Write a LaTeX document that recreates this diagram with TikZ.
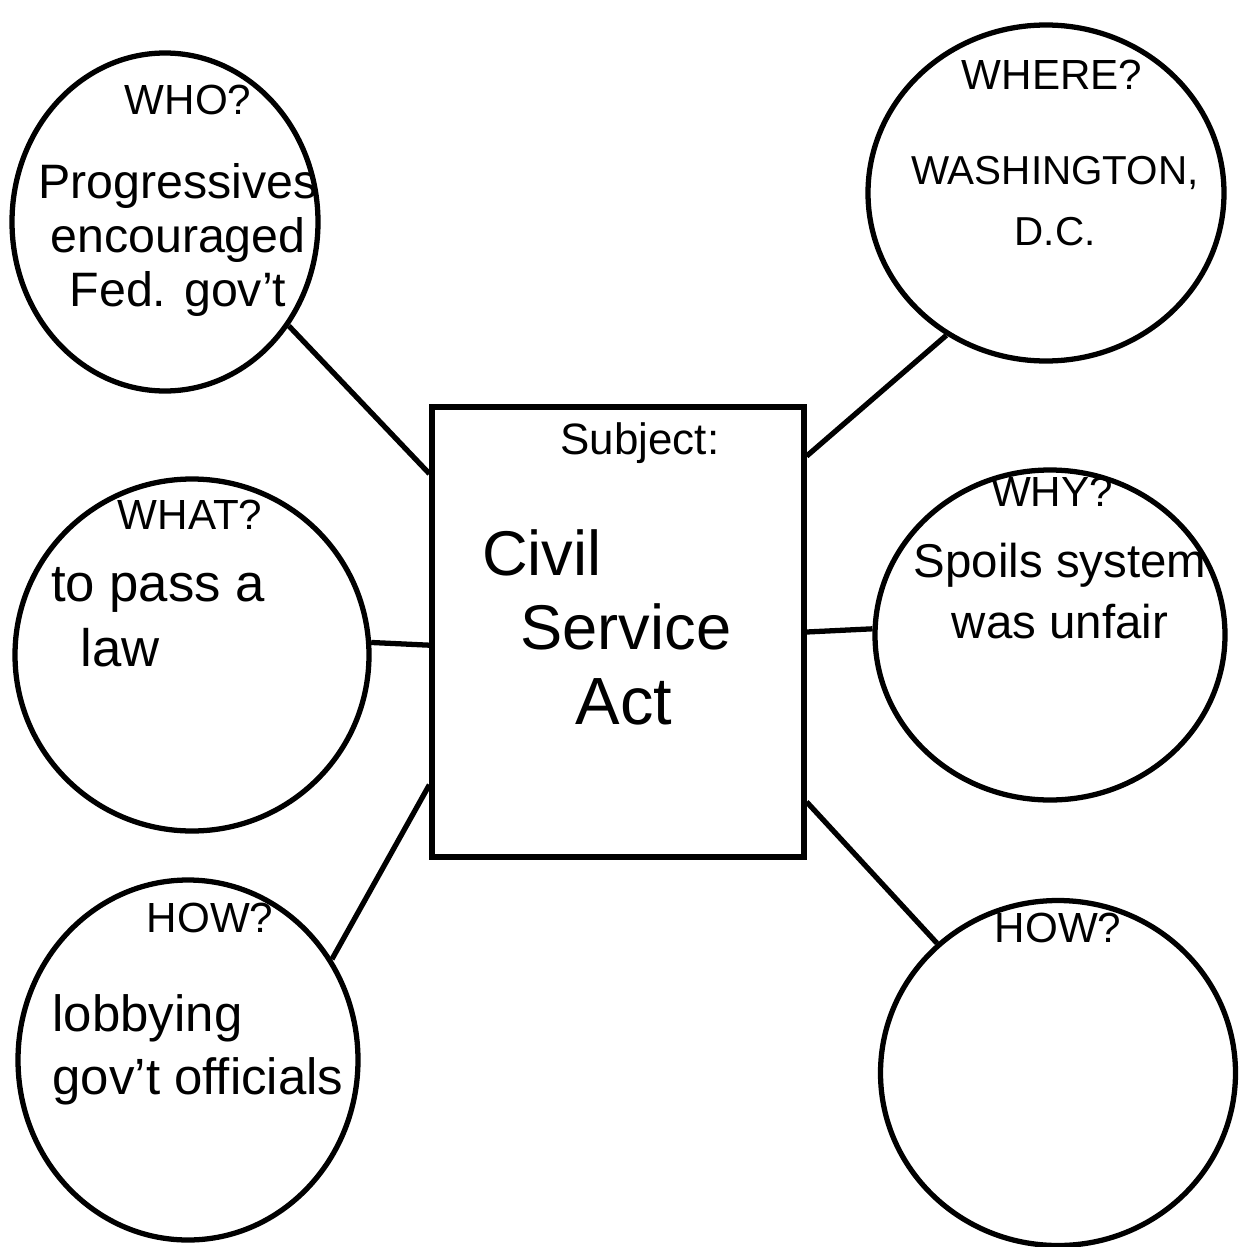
\documentclass[tikz,border=0pt]{standalone}
\usepackage{fontspec}
\setmainfont{Liberation Sans}
\usetikzlibrary{shapes.geometric}
\tikzset{
  burbuja/.style={draw, ellipse, line width=3pt, inner sep=0pt},
  caja/.style={draw, rectangle, line width=3pt, inner sep=0pt},
  enlace/.style={line width=3pt},
  pregunta/.style={font=\fontsize{24}{26}\selectfont},
  texto/.style={align=center},
}
\begin{document}
\begin{tikzpicture}[x=0.02cm, y=-0.02cm]
    % Marco de la imagen
    \useasboundingbox (0,0) rectangle (1245,1247);

    % Caja central
    \node[caja, minimum width=372*0.02cm, minimum height=450*0.02cm] (box) at (618,632) {};
    \node[font=\fontsize{25}{28}\selectfont] (subj) at (640,443) {Subject:};
    \node[font=\fontsize{36}{40}\selectfont] (civil) at (542,553) {Civil};
    \node[font=\fontsize{36}{40}\selectfont] (service) at (626,627) {Service};
    \node[font=\fontsize{38}{40}\selectfont] (act) at (624,702) {Act};

    % Burbujas
    \node[burbuja, minimum width=306*0.02cm, minimum height=338*0.02cm] (who) at (165,222) {};
    \node[burbuja, minimum width=356*0.02cm, minimum height=336*0.02cm] (where) at (1046,193) {};
    \node[burbuja, minimum width=354*0.02cm, minimum height=352*0.02cm] (what) at (192,655) {};
    \node[burbuja, minimum width=350*0.02cm, minimum height=330*0.02cm] (why) at (1050,635) {};
    \node[burbuja, minimum width=340*0.02cm, minimum height=360*0.02cm] (howl) at (188,1060) {};
    \node[burbuja, minimum width=355*0.02cm, minimum height=345*0.02cm] (howr) at (1058,1073) {};

    % Textos de las burbujas
    \node[pregunta] (qwho) at (188,100) {WHO?};
    \node[texto, font=\fontsize{27.5}{31}\selectfont] (twho) at (178,240) {Progressives\\encouraged\\Fed. gov't};
    \node[pregunta] (qwhere) at (1052,75) {WHERE?};
    \node[texto, font=\fontsize{23}{35}\selectfont] (twhere) at (1055,201) {WASHINGTON,\\D.C.};
    \node[pregunta] (qwhat) at (190,515) {WHAT?};
    \node[texto, align=left, font=\fontsize{30}{37}\selectfont] (twhat) at (158,617) {to pass a\\\ \ law};
    \node[pregunta] (qwhy) at (1052,492) {WHY?};
    \node[texto, font=\fontsize{27}{35}\selectfont] (twhy) at (1060,591) {Spoils system\\was unfair};
    \node[pregunta] (qhowl) at (210,918) {HOW?};
    \node[texto, align=left, font=\fontsize{29}{36}\selectfont] (thowl) at (198,1050) {lobbying\\gov't officials};
    \node[pregunta] (qhowr) at (1058,928) {HOW?};

    % Enlaces con la caja
    \draw[enlace] (who.-40) -- (box.140);
    \draw[enlace] (where.235) -- (box.43);
    \draw[enlace] (what.4) -- (box.184);
    \draw[enlace] (why.178) -- (box.0);
    \draw[enlace] (howl.35) -- (box.219);
    \draw[enlace] (howr.133) -- (box.-42);

\end{tikzpicture}
\end{document}
